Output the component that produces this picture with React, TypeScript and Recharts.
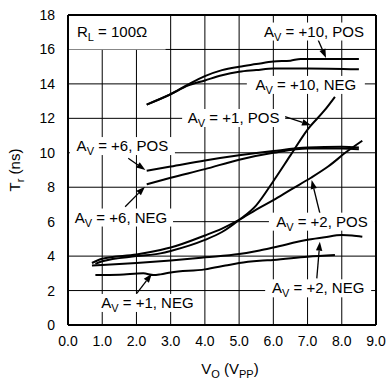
import React from 'react';
import {CartesianGrid, Line, LineChart, ReferenceArea, ReferenceDot, ReferenceLine, XAxis, YAxis} from 'recharts';

// output voltage (Vpp) and rise time (ns) per curve
const voAv10Pos = [2.3, 3.0, 3.5, 4.0, 4.5, 5.0, 5.5, 6.0, 6.5, 6.8, 7.5, 8.5];
const trAv10Pos = [12.8, 13.4, 13.95, 14.45, 14.8, 15.0, 15.15, 15.3, 15.35, 15.45, 15.45, 15.45];

const voAv10Neg = [2.3, 3.0, 3.5, 4.0, 4.5, 5.0, 5.5, 6.0, 7.0, 8.5];
const trAv10Neg = [12.8, 13.4, 13.9, 14.2, 14.5, 14.7, 14.8, 14.9, 14.9, 14.85];

const voAv1Pos = [0.8, 1.0, 2.0, 2.7, 3.0, 4.0, 4.5, 5.0, 5.5, 6.0, 6.5, 7.0, 7.5, 7.8];
const trAv1Pos = [3.55, 3.7, 4.0, 4.16, 4.3, 4.94, 5.4, 6.1, 6.95, 8.35, 9.85, 11.35, 12.47, 13.25];

const voAv2Pos = [0.7, 1.0, 2.0, 2.7, 3.0, 4.0, 4.5, 5.0, 5.5, 6.0, 6.5, 7.1, 7.6, 8.15, 8.6];
const trAv2Pos = [3.6, 3.85, 4.1, 4.36, 4.5, 5.2, 5.6, 6.1, 6.7, 7.25, 7.85, 8.55, 9.2, 10.07, 10.7];

const voAv6Pos = [2.3, 3.0, 4.0, 5.0, 6.0, 7.0, 8.0, 8.5];
const trAv6Pos = [8.96, 9.2, 9.55, 9.85, 10.1, 10.3, 10.35, 10.3];

const voAv6Neg = [2.3, 3.0, 4.0, 5.0, 6.0, 7.0, 8.0, 8.5];
const trAv6Neg = [8.17, 8.55, 9.05, 9.6, 10.0, 10.25, 10.25, 10.2];

const voAv2Neg = [0.7, 1.0, 2.0, 3.0, 4.0, 5.0, 5.6, 6.0, 7.0, 7.5, 8.0, 8.3, 8.6];
const trAv2Neg = [3.45, 3.48, 3.6, 3.75, 3.93, 4.12, 4.33, 4.5, 4.95, 5.1, 5.22, 5.2, 5.13];

const voAv1Neg = [0.8, 1.5, 2.2, 2.5, 2.7, 3.0, 4.0, 4.6, 5.0, 5.6, 6.0, 7.0, 7.8];
const trAv1Neg = [2.9, 2.92, 3.0, 2.9, 2.94, 3.05, 3.23, 3.45, 3.6, 3.73, 3.78, 3.97, 4.07];

const xTicks = [0, 1, 2, 3, 4, 5, 6, 7, 8, 9];
const yTicks = [0, 2, 4, 6, 8, 10, 12, 14, 16, 18];

const toPoints = (xs: number[], ys: number[]) => xs.map((x, i) => ({x, y: ys[i]}));

const curves = [
    toPoints(voAv10Pos, trAv10Pos),
    toPoints(voAv10Neg, trAv10Neg),
    toPoints(voAv1Pos, trAv1Pos),
    toPoints(voAv2Pos, trAv2Pos),
    toPoints(voAv6Pos, trAv6Pos),
    toPoints(voAv6Neg, trAv6Neg),
    toPoints(voAv2Neg, trAv2Neg),
    toPoints(voAv1Neg, trAv1Neg),
];

// curve labels: text after "A_V = ", label centre, box width, arrow from -> to
const labels = [
    {text: '+10, POS', x: 7.19, y: 17.04, w: 114, arrow: [7.31, 16.55, 7.54, 15.5]},
    {text: '+10, NEG', x: 6.95, y: 13.94, w: 118, arrow: null},
    {text: '+1, POS', x: 4.84, y: 12.02, w: 103, arrow: [6.34, 12.1, 7.1, 11.6]},
    {text: '+6, POS', x: 1.59, y: 10.39, w: 105, arrow: [1.76, 9.68, 2.26, 9.0]},
    {text: '+6, NEG', x: 1.55, y: 6.24, w: 104, arrow: [1.67, 6.87, 2.25, 8.03]},
    {text: '+1, NEG', x: 2.32, y: 1.28, w: 105, arrow: [2.01, 1.84, 2.45, 2.98]},
    {text: '+2, POS', x: 7.42, y: 6.0, w: 106, arrow: [7.36, 6.49, 7.12, 8.42]},
    {text: '+2, NEG', x: 7.31, y: 2.13, w: 106, arrow: [7.27, 2.71, 7.36, 4.84]},
];

const FONT = 'Liberation Sans, Arial, sans-serif';

const LabelBox = (text: string, w: number) => (props: any) => {
    const {cx, cy} = props;
    return (
        <g>
            <rect x={cx - w / 2} y={cy - 9} width={w} height={18} fill="#fff"/>
            <text x={cx} y={cy + 5} textAnchor="middle" fontFamily={FONT} fontSize={15} fill="#000">
                <tspan>A</tspan>
                <tspan dy={4} fontSize={11}>V</tspan>
                <tspan dy={-4}>{' = ' + text}</tspan>
            </text>
        </g>
    );
};

const Arrow = (props: any) => {
    const {x1, y1, x2, y2} = props;
    const a = Math.atan2(y2 - y1, x2 - x1);
    const len = 9;
    const half = 3.2;
    const bx = x2 - len * Math.cos(a);
    const by = y2 - len * Math.sin(a);
    const px = -Math.sin(a) * half;
    const py = Math.cos(a) * half;
    return (
        <g>
            <line x1={x1} y1={y1} x2={bx} y2={by} stroke="#000" strokeWidth={1.3}/>
            <polygon points={`${x2},${y2} ${bx + px},${by + py} ${bx - px},${by - py}`} fill="#000"/>
        </g>
    );
};

const XTitle = (props: any) => {
    const {x, y, width} = props.viewBox;
    return (
        <text x={x + width / 2 + 8} y={y + 49} textAnchor="middle" fontFamily={FONT} fontSize={15} fill="#000">
            <tspan>V</tspan>
            <tspan dy={4} fontSize={11}>O</tspan>
            <tspan dy={-4}> (V</tspan>
            <tspan dy={4} fontSize={11}>PP</tspan>
            <tspan dy={-4}>)</tspan>
        </text>
    );
};

const YTitle = (props: any) => {
    const {y, height} = props.viewBox;
    const cx = 20;
    const cy = y + height / 2;
    return (
        <text x={cx} y={cy} transform={`rotate(-90 ${cx} ${cy})`} textAnchor="middle" fontFamily={FONT} fontSize={15} fill="#000">
            <tspan>T</tspan>
            <tspan dy={4} fontSize={11}>r</tspan>
            <tspan dy={-4}> (ns)</tspan>
        </text>
    );
};

const tickStyle = {fontFamily: FONT, fontSize: 14, fill: '#000'};

export default function App() {
    return (
        <div style={{position: 'absolute', left: 0, top: 0}}>
            <LineChart width={390} height={383} margin={{top: 15, right: 14, bottom: 0, left: 0}}>
                <CartesianGrid stroke="#000" strokeWidth={1} horizontalValues={yTicks} verticalValues={xTicks}/>
                <ReferenceArea x1={0} x2={2.85} y1={16} y2={18} fill="#fff" fillOpacity={1} stroke="none"/>
                <XAxis
                    type="number"
                    dataKey="x"
                    domain={[0, 9]}
                    ticks={xTicks}
                    tickFormatter={(v: number) => v.toFixed(1)}
                    height={58}
                    tickSize={0}
                    tickMargin={11}
                    tick={tickStyle}
                    axisLine={{stroke: '#000', strokeWidth: 2}}
                    label={<XTitle/>}
                />
                <YAxis
                    type="number"
                    domain={[0, 18]}
                    ticks={yTicks}
                    width={68}
                    tickSize={0}
                    tickMargin={13}
                    tick={tickStyle}
                    axisLine={{stroke: '#000', strokeWidth: 2}}
                    label={<YTitle/>}
                />
                <ReferenceLine y={18} stroke="#000" strokeWidth={2}/>
                <ReferenceLine x={9} stroke="#000" strokeWidth={2}/>
                {curves.map((pts, i) => (
                    <Line
                        key={i}
                        data={pts}
                        dataKey="y"
                        type="monotone"
                        stroke="#000"
                        strokeWidth={2}
                        dot={false}
                        isAnimationActive={false}
                    />
                ))}
                <ReferenceDot x={0.26} y={17.0} r={0} shape={(p: any) => (
                    <text x={p.cx} y={p.cy + 5} fontFamily={FONT} fontSize={15} fill="#000">
                        <tspan>R</tspan>
                        <tspan dy={4} fontSize={11}>L</tspan>
                        <tspan dy={-4}> = 100Ω</tspan>
                    </text>
                )}/>
                {labels.map((l, i) => (
                    <ReferenceDot key={'l' + i} x={l.x} y={l.y} r={0} shape={LabelBox(l.text, l.w)}/>
                ))}
                {labels.filter(l => l.arrow).map((l, i) => (
                    <ReferenceLine
                        key={'a' + i}
                        segment={[{x: l.arrow![0], y: l.arrow![1]}, {x: l.arrow![2], y: l.arrow![3]}]}
                        shape={Arrow}
                    />
                ))}
            </LineChart>
        </div>
    );
}
